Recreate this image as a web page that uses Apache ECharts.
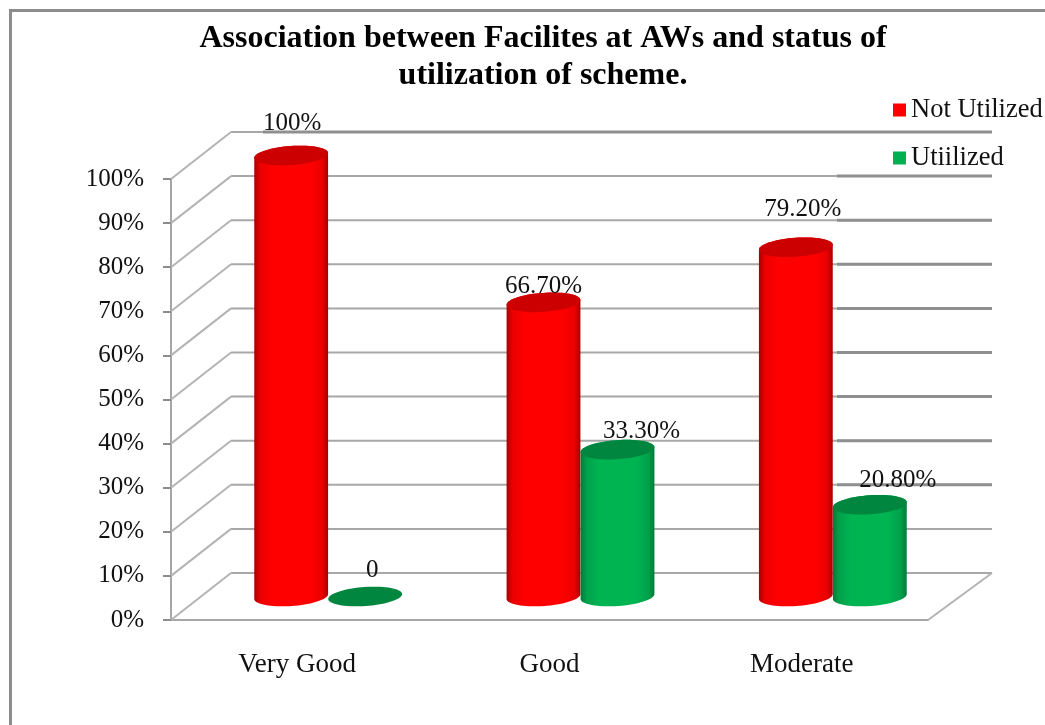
<!DOCTYPE html>
<html>
<head>
<meta charset="utf-8">
<style>
  html, body { margin: 0; padding: 0; background: #fff; }
  #main { width: 1045px; height: 725px; }
</style>
<script src="https://cdn.jsdelivr.net/npm/echarts@6/dist/echarts.min.js"></script>
</head>
<body>
<div id="main"></div>
<script>
const categories = ['Very Good', 'Good', 'Moderate']
const notUtilized = [100, 66.7, 79.2]
const utilized = [0, 33.3, 20.8]
const notUtilizedLabels = ['100%', '66.70%', '79.20%']
const utilizedLabels = ['0', '33.30%', '20.80%']
const wallTicks = [0, 10, 20, 30, 40, 50, 60, 70, 80, 90, 100]

// fake 3d: how far the back wall sits from the front plane
const DEPTH_X = 60
const DEPTH_Y = 47
const RADIUS_X = 37
const RADIUS_Y = 9.5
const TILT = -0.07
const DARK_FROM_X = 837

// labels were moved by hand in the original, so each has its own offset
const redLabelOffset = [[1, -32], [0, -16], [7, -38]]
const greenLabelOffset = [[7, -26], [24, -18], [28, -24]]

const FONT = '"Liberation Serif", "Times New Roman", serif'

function ellipsePoints(cx, cy) {
  const pts = []
  for (let i = 0; i < 72; i++) {
    const t = (i / 72) * Math.PI * 2
    const ex = RADIUS_X * Math.cos(t)
    const ey = RADIUS_Y * Math.sin(t)
    pts.push([
      cx + ex * Math.cos(TILT) - ey * Math.sin(TILT),
      cy + ex * Math.sin(TILT) + ey * Math.cos(TILT),
    ])
  }
  return pts
}

function bodyPoints(cx, topY, baseY) {
  const top = ellipsePoints(cx, topY)
  const base = ellipsePoints(cx, baseY)
  let left = 0
  let right = 0
  top.forEach((p, i) => {
    if (p[0] < top[left][0]) left = i
    if (p[0] > top[right][0]) right = i
  })
  const pts = []
  // lower side of the base, going right to left
  for (let i = right; ; i = (i + 1) % 72) {
    pts.push(base[i])
    if (i === left) break
  }
  // upper side of the top, going left to right
  for (let i = left; ; i = (i + 1) % 72) {
    pts.push(top[i])
    if (i === right) break
  }
  return pts
}

function sideGradient(edge, mid, soft) {
  return new echarts.graphic.LinearGradient(0, 0, 1, 0, [
    { offset: 0, color: edge },
    { offset: 0.08, color: soft },
    { offset: 0.25, color: mid },
    { offset: 0.75, color: mid },
    { offset: 0.92, color: soft },
    { offset: 1, color: edge },
  ])
}

function cylinderItem(colors, side, labels, offsets) {
  return function (params, api) {
    const idx = api.value(0)
    const value = api.value(1)
    const centre = api.coord([idx, value])
    const zero = api.coord([idx, 0])
    const cx = centre[0] + DEPTH_X / 2 + 1 + side * RADIUS_X
    const topY = centre[1] - DEPTH_Y / 2
    const baseY = zero[1] - DEPTH_Y / 2
    const children = []
    if (value > 0) {
      children.push({
        type: 'polygon',
        shape: { points: bodyPoints(cx, topY, baseY) },
        style: { fill: sideGradient(colors.edge, colors.mid, colors.soft) },
      })
    }
    children.push({
      type: 'polygon',
      shape: { points: ellipsePoints(cx, topY) },
      style: { fill: colors.top },
    })
    children.push({
      type: 'text',
      style: {
        text: labels[idx],
        x: cx + offsets[idx][0],
        y: topY + offsets[idx][1],
        align: 'center',
        verticalAlign: 'middle',
        font: '25px ' + FONT,
        fill: '#111',
      },
    })
    return { type: 'group', children: children }
  }
}

function wallItem(params, api) {
  const v = api.value(0)
  const sys = params.coordSys
  const y = api.coord([0, v])[1]
  const x0 = sys.x
  const x1 = x0 + DEPTH_X
  const x2 = x0 + sys.width + DEPTH_X + 4
  const yBack = y - DEPTH_Y
  const children = [
    { type: 'line', shape: { x1: x0, y1: y, x2: x1, y2: yBack }, style: { stroke: '#b4b4b4', lineWidth: 2 } },
    { type: 'line', shape: { x1: x1, y1: yBack, x2: x2, y2: yBack }, style: { stroke: '#a8a8a8', lineWidth: 2 } },
  ]
  if (v >= 20) {
    const from = v === 100 ? x1 + 32 : DARK_FROM_X
    children.push({
      type: 'line',
      shape: { x1: from, y1: yBack, x2: x2, y2: yBack },
      style: { stroke: '#8f8f8f', lineWidth: 3 },
    })
  }
  return { type: 'group', children: children }
}

// right edge of the floor, running back from the end of the front axis
function floorItem(params, api) {
  const sys = params.coordSys
  const y = api.coord([0, 0])[1]
  const x = sys.x + sys.width
  return {
    type: 'line',
    shape: { x1: x, y1: y, x2: x + DEPTH_X + 4, y2: y - DEPTH_Y },
    style: { stroke: '#b4b4b4', lineWidth: 2 },
  }
}

const redColors = { edge: '#a80000', soft: '#ea0000', mid: '#ff0000', top: '#cc0000' }
const greenColors = { edge: '#007a38', soft: '#00a04a', mid: '#00b452', top: '#00863e' }

const chart = echarts.init(document.getElementById('main'), null, { renderer: 'canvas' })
chart.setOption({
  animation: false,
  backgroundColor: '#fff',
  title: {
    text: 'Association between Facilites at AWs and status of\nutilization of scheme.',
    left: 538,
    top: 15,
    textAlign: 'center',
    textStyle: { fontFamily: FONT, fontSize: 32, fontWeight: 'bold', color: '#000', lineHeight: 37 },
  },
  legend: {
    data: ['Not Utilized', 'Utiilized'],
    left: 888,
    top: 90,
    orient: 'vertical',
    itemWidth: 13,
    itemHeight: 13,
    itemGap: 18,
    icon: 'rect',
    textStyle: { fontFamily: FONT, fontSize: 26.5, color: '#111', lineHeight: 30 },
  },
  graphic: [
    { type: 'rect', shape: { x: 9, y: 9, width: 1036, height: 3 }, style: { fill: '#8c8c8c' } },
    { type: 'rect', shape: { x: 9, y: 9, width: 3, height: 716 }, style: { fill: '#8c8c8c' } },
  ],
  grid: { left: 171, right: 117, top: 179, bottom: 105 },
  xAxis: {
    type: 'category',
    data: categories,
    axisLine: { lineStyle: { color: '#a6a6a6', width: 2 } },
    axisTick: { length: 8, lineStyle: { color: '#8c8c8c', width: 2 } },
    axisLabel: { fontFamily: FONT, fontSize: 27, color: '#111', margin: 31 },
  },
  yAxis: {
    type: 'value',
    min: 0,
    max: 100,
    interval: 10,
    axisLine: { show: true, lineStyle: { color: '#a6a6a6', width: 2 } },
    axisTick: { show: true, length: 8, lineStyle: { color: '#8c8c8c', width: 2 } },
    axisLabel: { formatter: '{value}%', fontFamily: FONT, fontSize: 25, color: '#111', margin: 27 },
    splitLine: { show: false },
  },
  series: [
    {
      name: 'walls',
      type: 'custom',
      silent: true,
      renderItem: wallItem,
      data: wallTicks.map((v) => [v]),
      encode: { y: 0 },
      z: 1,
    },
    {
      name: 'floor',
      type: 'custom',
      silent: true,
      renderItem: floorItem,
      data: [[0]],
      encode: { y: 0 },
      z: 1,
    },
    {
      name: 'Not Utilized',
      type: 'custom',
      renderItem: cylinderItem(redColors, -1, notUtilizedLabels, redLabelOffset),
      itemStyle: { color: '#ff0000' },
      data: notUtilized.map((v, i) => [i, v]),
      encode: { x: 0, y: 1 },
      z: 3,
    },
    {
      name: 'Utiilized',
      type: 'custom',
      renderItem: cylinderItem(greenColors, 1, utilizedLabels, greenLabelOffset),
      itemStyle: { color: '#00b050' },
      data: utilized.map((v, i) => [i, v]),
      encode: { x: 0, y: 1 },
      z: 4,
    },
  ],
})
</script>
</body>
</html>
